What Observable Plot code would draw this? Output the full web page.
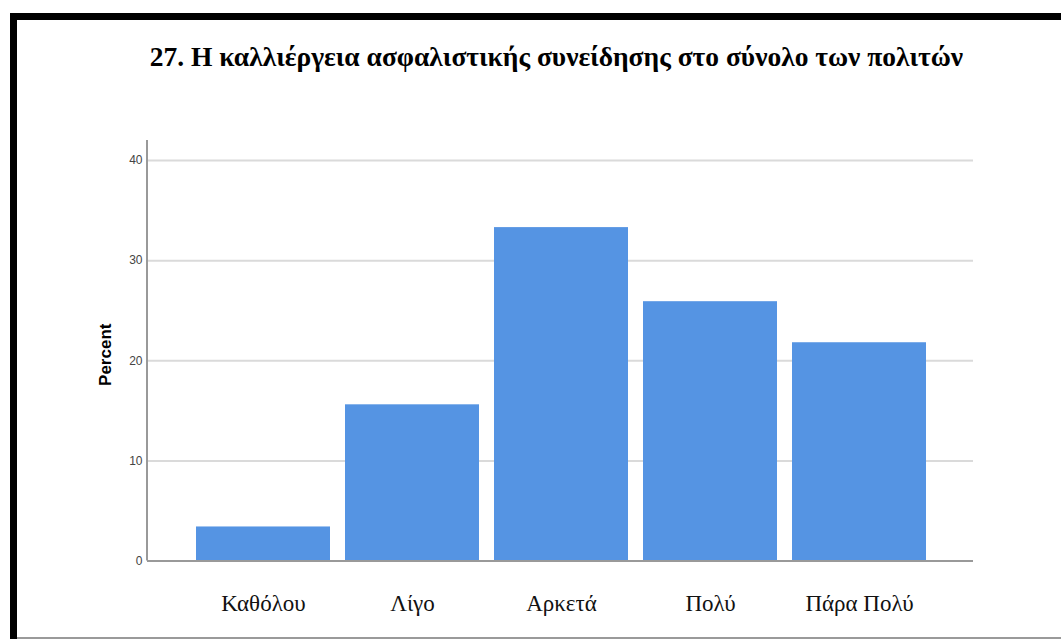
<!DOCTYPE html>
<html>
<head>
<meta charset="utf-8">
<script src="https://cdn.jsdelivr.net/npm/d3@7"></script>
<script src="https://cdn.jsdelivr.net/npm/@observablehq/plot@0.6"></script>
<style>
  html, body { margin: 0; padding: 0; background: #fff; }
  #wrap { position: relative; width: 1061px; height: 639px; overflow: hidden; background: #fff; }
  #chart { position: absolute; left: 0; top: 0; }
  #title { position: absolute; left: 100px; width: 913px; top: 41px; text-align: center;
           font-family: "Liberation Serif", "Times New Roman", serif; font-weight: bold; font-size: 27.5px; color: #000; white-space: nowrap; }
  .bTop { position: absolute; left: 10px; top: 13px; width: 1051px; height: 7px; background: #000; }
  .bLeft { position: absolute; left: 10px; top: 13px; width: 7px; height: 626px; background: #000; }
  .bBottom { position: absolute; left: 17px; top: 637px; width: 1044px; height: 2px; background: #9a9a9a; }
</style>
</head>
<body>
<div id="wrap">
  <div id="chart"></div>
  <div id="title">27. Η καλλιέργεια ασφαλιστικής συνείδησης στο σύνολο των πολιτών</div>
  <div class="bTop"></div>
  <div class="bLeft"></div>
  <div class="bBottom"></div>
</div>
<script>
const categories = ["Καθόλου", "Λίγο", "Αρκετά", "Πολύ", "Πάρα Πολύ"];
const percents = [3.4, 15.6, 33.3, 25.9, 21.8];
const yTicks = [0, 10, 20, 30, 40];
const gridTicks = [10, 20, 30, 40];
const yLabel = "Percent";

const data = categories.map((c, i) => ({category: c, percent: percents[i]}));

// vertical y-axis line along the left edge of the frame
const leftAxisLine = (index, scales, values, dimensions) => {
  const {marginLeft, marginTop, height, marginBottom} = dimensions;
  const g = d3.create("svg:line")
    .attr("x1", marginLeft).attr("x2", marginLeft)
    .attr("y1", marginTop).attr("y2", height - marginBottom)
    .attr("stroke", "#999").attr("stroke-width", 2);
  return g.node();
};

const plot = Plot.plot({
  width: 1061,
  height: 639,
  marginLeft: 147,
  marginRight: 88,
  marginTop: 140,
  marginBottom: 78.5,
  style: {background: "transparent"},
  x: {domain: categories, paddingInner: 0.1, paddingOuter: 0.32, align: 0.51, label: null},
  y: {domain: [0, 42], label: null},
  marks: [
    Plot.ruleY(gridTicks, {stroke: "#dadada", strokeWidth: 2}),
    Plot.barY(data, {x: "category", y: "percent", fill: "#5594e3"}),
    Plot.ruleY([0], {stroke: "#999", strokeWidth: 2}),
    leftAxisLine,
    Plot.axisY({ticks: yTicks, tickSize: 0, tickPadding: 5, fontSize: 12, fill: "#444",
      fontFamily: "Liberation Sans, Arial, sans-serif", label: null}),
    Plot.axisX({tickSize: 0, tickPadding: 34, fontSize: 23, fill: "#111",
      fontFamily: "Liberation Serif, Times New Roman, serif", label: null}),
    Plot.text([yLabel], {frameAnchor: "left", dx: -42, dy: 4, rotate: -90, textAnchor: "middle", lineAnchor: "middle",
      fontSize: 17, fontWeight: "bold",
      fontFamily: "Liberation Sans, Arial, sans-serif", fill: "#000", text: d => d})
  ]
});
document.getElementById("chart").appendChild(plot);
</script>
</body>
</html>
